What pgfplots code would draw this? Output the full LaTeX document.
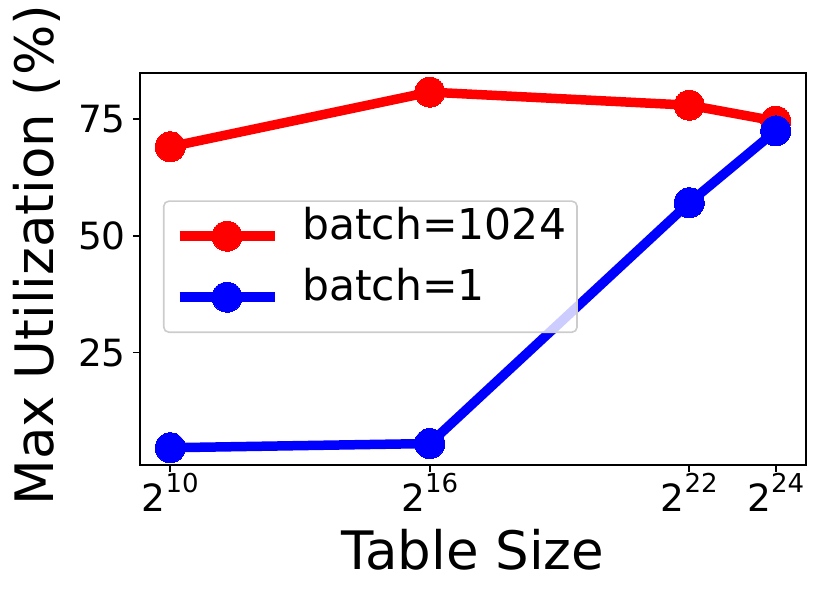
\documentclass[border=0pt]{standalone}
\usepackage{fontspec}
\setmainfont{DejaVu Sans}
\usepackage{pgfplots}
\pgfplotsset{compat=1.18}
\newcommand{\pw}[1]{2\raisebox{0.5em}{\fontsize{26}{26}\selectfont #1}}
\begin{document}
\begin{tikzpicture}
\useasboundingbox (-140pt,-131pt) rectangle (681pt,465pt);
\begin{axis}[
    at={(0pt,0pt)}, anchor=south west,
    scale only axis, width=666pt, height=392pt,
    xmin=9.3, xmax=24.7, ymin=0.9, ymax=84.9,
    xtick={10,16,22,24},
    xticklabels={\pw{10},\pw{16},\pw{22},\pw{24}},
    ytick={25,50,75},
    /pgf/number format/assume math mode=true,
    tick align=outside, major tick length=7pt,
    tick style={line width=1.6pt, black},
    axis line style={line width=1.6pt},
    xtick pos=bottom, ytick pos=left,
    ticklabel style={font=\fontsize{37.5}{40}\selectfont, inner sep=1pt},
    yticklabel style={xshift=-6pt},
    xlabel={Table Size}, ylabel={Max Utilization (\%)},
    label style={font=\fontsize{53}{58}\selectfont},
    xlabel style={at={(axis description cs:0.5,-0.217)}, anchor=center},
    ylabel style={at={(axis description cs:-0.155,0.535)}, anchor=center},
    legend style={at={(axis description cs:0.0345,0.675)}, anchor=north west,
        draw=black!20, line width=1.6pt, rounded corners=5pt,
        fill=white, fill opacity=0.8, text opacity=1,
        font=\fontsize{42.5}{46}\selectfont,
        inner xsep=11pt, inner ysep=20pt, row sep=31pt,
        nodes={inner sep=0pt, text height=0.73em, text depth=0pt},
        /tikz/every odd column/.append style={column sep=23pt},
        cells={anchor=west}},
    legend image code/.code={
        \draw[mark repeat=2, mark phase=2, draw opacity=1, fill opacity=1, #1]
            plot coordinates {(0pt,0pt) (47.5pt,0pt) (95pt,0pt)};
    },
    every axis plot/.append style={line width=9.5pt, mark=*, mark size=15pt},
]
\addplot[color=red, mark options={fill=red, draw=red, line width=0pt}]
    coordinates {(10,69.1) (16,80.8) (22,78.0) (24,74.6)};
\addlegendentry{batch=1024\hspace{7pt}}
\addplot[color=blue, mark options={fill=blue, draw=blue, line width=0pt}]
    coordinates {(10,4.6) (16,5.5) (22,57.1) (24,72.5)};
\addlegendentry{batch=1}
\end{axis}
\end{tikzpicture}
\end{document}
